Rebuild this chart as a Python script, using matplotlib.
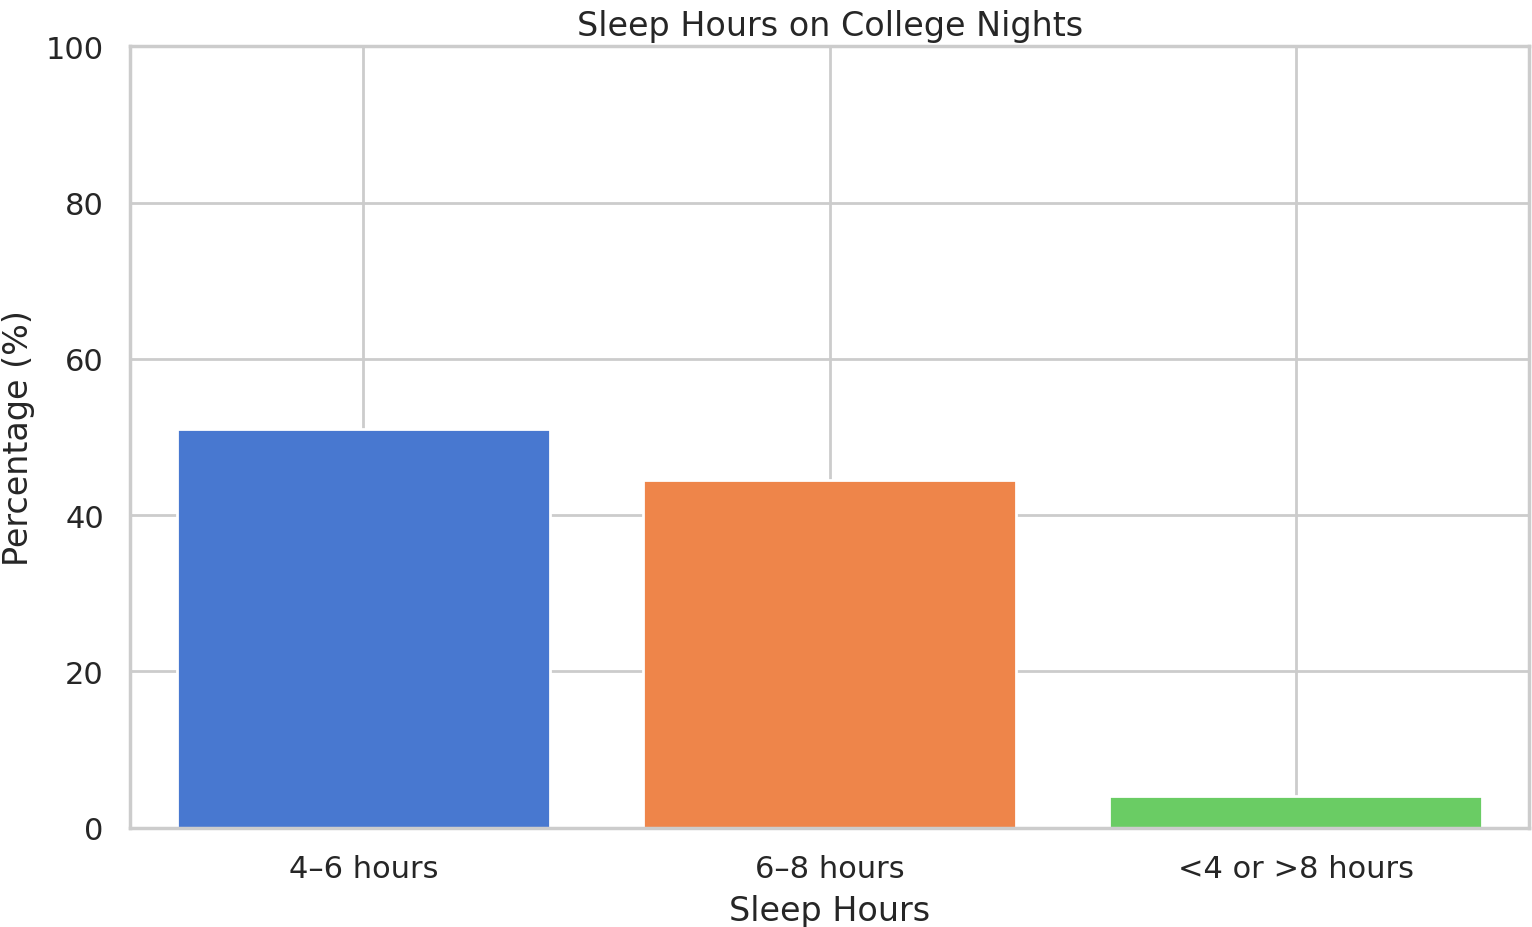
import matplotlib
matplotlib.use("Agg")
import matplotlib.pyplot as plt
import seaborn as sns

categories = ["4–6 hours", "6–8 hours", "<4 or >8 hours"]
percentages = [51.0, 44.5, 4.0]

sns.set_theme(style="whitegrid", palette="muted")
fig = plt.figure(figsize=(7.66, 4.64), dpi=200)
ax = fig.add_axes([0.085, 0.107, 0.913, 0.842])
colors = sns.color_palette("muted", 3)
ax.bar(categories, percentages, color=colors, width=0.8)
ax.set_ylim(0, 100)
ax.set_xlim(-0.5, 2.5)
ax.set_title("Sleep Hours on College Nights", fontsize=12, pad=4)
ax.set_xlabel("Sleep Hours", fontsize=12)
ax.set_ylabel("Percentage (%)", fontsize=12)
ax.tick_params(labelsize=11)
fig.savefig("out.png", dpi=200)
